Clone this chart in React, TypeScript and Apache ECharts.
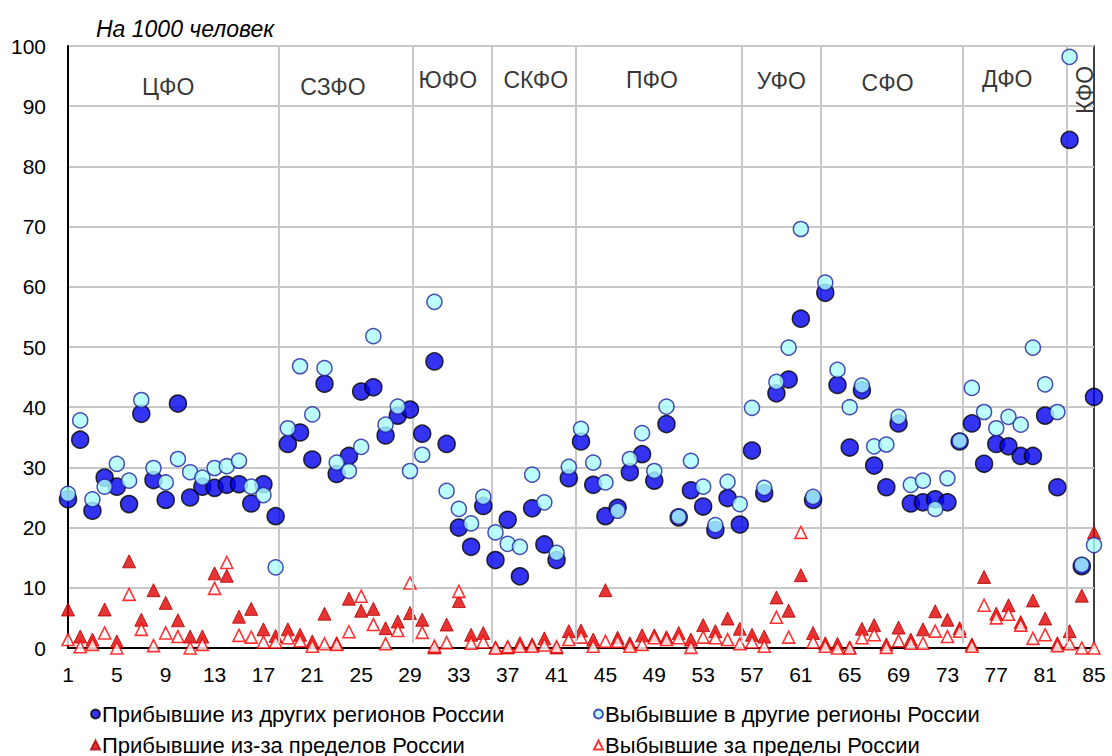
import React, { useEffect, useRef } from "react";
import * as echarts from "echarts";

// Region numbers 1..85 (x positions)
const arrivalsOtherRegions = [
  24.7, 34.6, 22.8, 28.3, 26.8, 23.9, 38.9, 27.9, 24.6, 40.6,
  25.0, 26.8, 26.6, 27.1, 27.2, 24.0, 27.2, 21.9, 33.9, 35.8,
  31.3, 43.9, 28.9, 31.9, 42.6, 43.3, 35.3, 38.6, 39.6, 35.6,
  47.6, 33.9, 20.0, 16.8, 23.6, 14.6, 21.3, 11.9, 23.2, 17.2,
  14.6, 28.2, 34.3, 27.1, 21.9, 23.3, 29.2, 32.2, 27.8, 37.2,
  21.7, 26.2, 23.5, 19.6, 24.9, 20.5, 32.8, 25.7, 42.3, 44.6,
  54.7, 24.6, 59.0, 43.7, 33.3, 42.8, 30.3, 26.7, 37.3, 24.0,
  24.2, 24.7, 24.2, 34.3, 37.3, 30.6, 33.9, 33.5, 31.9, 31.9,
  38.6, 26.7, 84.4, 13.6, 41.7,
];
const departuresOtherRegions = [
  25.6, 37.8, 24.7, 26.8, 30.6, 27.8, 41.2, 29.9, 27.5, 31.4,
  29.2, 28.3, 29.9, 30.2, 31.1, 26.8, 25.4, 13.4, 36.5, 46.8,
  38.8, 46.5, 30.8, 29.4, 33.4, 51.8, 37.1, 40.1, 29.4, 32.1,
  57.5, 26.1, 23.1, 20.7, 25.1, 19.2, 17.3, 16.8, 28.8, 24.2,
  15.8, 30.1, 36.4, 30.8, 27.5, 22.8, 31.4, 35.7, 29.4, 40.1,
  21.8, 31.1, 26.8, 20.4, 27.6, 23.9, 39.9, 26.6, 44.2, 49.9,
  69.6, 25.1, 60.7, 46.2, 40.0, 43.6, 33.5, 33.8, 38.4, 27.1,
  27.8, 23.1, 28.2, 34.4, 43.2, 39.2, 36.5, 38.4, 37.1, 49.9,
  43.8, 39.2, 98.2, 13.8, 17.1,
];
const arrivalsAbroad = [
  6.4, 1.9, 1.4, 6.4, 1.1, 14.4, 4.7, 9.6, 7.5, 4.6,
  1.9, 1.9, 12.4, 12.0, 5.2, 6.5, 3.1, 2.0, 3.1, 2.2,
  1.1, 5.7, 0.8, 8.2, 6.2, 6.5, 3.3, 4.4, 5.8, 4.7,
  0.1, 3.9, 7.8, 2.2, 2.5, 0.1, 0.1, 0.8, 0.6, 1.6,
  0.1, 2.8, 2.9, 1.4, 9.6, 1.7, 0.8, 2.1, 2.1, 1.8,
  2.5, 1.4, 3.8, 2.8, 4.9, 3.2, 2.2, 1.9, 8.4, 6.2,
  12.1, 2.5, 0.8, 0.7, 0.1, 3.2, 3.8, 0.6, 3.4, 1.4,
  3.1, 6.1, 4.7, 3.3, 0.6, 11.8, 5.7, 7.1, 4.3, 7.9,
  4.9, 0.8, 2.8, 8.7, 19.2,
];
const departuresAbroad = [
  1.4, 0.2, 0.6, 2.5, 0.0, 8.9, 3.1, 0.4, 2.5, 1.9,
  0.0, 0.6, 9.9, 14.2, 2.1, 1.8, 1.0, 1.0, 1.7, 1.2,
  0.3, 0.7, 0.6, 2.7, 8.6, 3.9, 0.7, 2.9, 10.8, 2.6,
  0.3, 0.9, 9.4, 0.8, 1.0, 0.0, 0.2, 0.3, 0.3, 0.5,
  0.2, 1.4, 1.8, 0.3, 1.1, 1.1, 0.3, 0.6, 1.7, 1.4,
  1.7, 0.1, 1.8, 1.7, 1.4, 0.7, 1.0, 0.3, 5.1, 1.8,
  19.2, 1.0, 0.3, 0.0, 0.0, 1.7, 2.2, 0.1, 1.2, 0.8,
  0.8, 2.8, 1.9, 2.8, 0.3, 7.1, 5.0, 5.6, 3.8, 1.6,
  2.2, 0.4, 0.7, 0.0, 0.0,
];

// District separators (x positions) and district labels
const separators = [18.25, 29.23, 35.66, 42.53, 56.2, 62.66, 74.26, 82.77];
const districtNames = ["ЦФО", "СЗФО", "ЮФО", "СКФО", "ПФО", "УФО", "СФО", "ДФО", "КФО"];
const districtX = [9.2, 22.7, 32.1, 39.3, 48.8, 59.4, 68.1, 77.9, 84.3];
const districtY = [93.2, 93.2, 94.4, 94.4, 94.4, 94.2, 93.9, 94.6, 92.7];
const districtRotate = [0, 0, 0, 0, 0, 0, 0, 0, 90];

const titleText = "На 1000 человек";
const seriesNames = [
  "Прибывшие из других регионов России",
  "Выбывшие в другие регионы России",
  "Прибывшие из-за пределов России",
  "Выбывшие за пределы России",
];

const FONT = "'Liberation Sans', Arial, sans-serif";

const toPoints = (arr: number[]) => arr.map((v, i) => [i + 1, v]);

const legendAt = (name: string, left: number, top: number) => ({
  data: [name],
  left,
  top,
  itemWidth: 9,
  itemHeight: 9,
  itemGap: 0,
  padding: 0,
  textStyle: { fontFamily: FONT, fontSize: 22, color: "#000", padding: [0, 0, 0, -3] },
});

export default function App() {
  const ref = useRef<HTMLDivElement>(null);
  useEffect(() => {
    document.body.style.margin = "0";
    const chart = echarts.init(ref.current!, undefined, { renderer: "svg" });
    const option: any = {
      animation: false,
      backgroundColor: "#ffffff",
      title: {
        text: titleText,
        left: 91,
        top: 12,
        textStyle: { fontFamily: FONT, fontSize: 23, fontStyle: "italic", fontWeight: "normal", color: "#000" },
      },
      grid: {
        left: 68,
        right: 18,
        top: 46,
        bottom: 108,
        show: true,
        borderColor: "#000",
        borderWidth: 1.5,
        backgroundColor: "transparent",
      },
      legend: [
        legendAt(seriesNames[0], 90, 703),
        legendAt(seriesNames[2], 90, 734),
        legendAt(seriesNames[1], 593, 703),
        legendAt(seriesNames[3], 593, 734),
      ],
      xAxis: {
        type: "value",
        min: 1,
        max: 85,
        interval: 4,
        axisLine: { show: true, lineStyle: { color: "#000", width: 2 } },
        axisTick: { show: false },
        splitLine: { show: false },
        axisLabel: { fontFamily: FONT, fontSize: 21, color: "#000", margin: 16 },
      },
      yAxis: {
        type: "value",
        min: 0,
        max: 100,
        interval: 10,
        axisLine: { show: true, lineStyle: { color: "#000", width: 2 } },
        axisTick: { show: false },
        splitLine: { show: true, lineStyle: { color: "#c8c8c8", width: 2 } },
        axisLabel: { fontFamily: FONT, fontSize: 21, color: "#000", margin: 22 },
      },
      series: [
        {
          name: "districts",
          type: "scatter",
          z: 1,
          symbolSize: 0,
          clip: false,
          silent: true,
          data: districtNames.map((n, i) => ({
            value: [districtX[i], districtY[i]],
            name: n,
            label: { rotate: districtRotate[i] },
          })),
          label: {
            show: true,
            position: "inside",
            formatter: (p: any) => p.name,
            fontFamily: FONT,
            fontSize: 23,
            color: "#000",
          },
          markLine: {
            silent: true,
            symbol: "none",
            animation: false,
            label: { show: false },
            lineStyle: { color: "#c8c8c8", width: 2, type: "solid" },
            data: separators.map((x) => [{ coord: [x, 0.8] }, { coord: [x, 100] }]),
          },
        },
        {
          name: seriesNames[2],
          type: "scatter",
          z: 3,
          clip: false,
          symbol: "triangle",
          symbolSize: 13,
          itemStyle: { color: "#e00000", borderColor: "#b00000", borderWidth: 1 },
          data: toPoints(arrivalsAbroad),
        },
        {
          name: seriesNames[3],
          type: "scatter",
          z: 4,
          clip: false,
          symbol: "triangle",
          symbolSize: 12,
          itemStyle: { color: "#ffffff", borderColor: "#ff0000", borderWidth: 1.6 },
          data: toPoints(departuresAbroad),
        },
        {
          name: seriesNames[0],
          type: "scatter",
          z: 5,
          clip: false,
          symbol: "circle",
          symbolSize: 17,
          itemStyle: { color: "#0000ee", borderColor: "#000000", borderWidth: 1.5 },
          data: toPoints(arrivalsOtherRegions),
        },
        {
          name: seriesNames[1],
          type: "scatter",
          z: 6,
          clip: false,
          symbol: "circle",
          symbolSize: 15,
          itemStyle: { color: "#aaffff", borderColor: "#2020a0", borderWidth: 1.5 },
          data: toPoints(departuresOtherRegions),
        },
      ],
    };
    chart.setOption(option);
    return () => chart.dispose();
  }, []);
  return <div ref={ref} style={{ width: 1112, height: 756 }} />;
}
